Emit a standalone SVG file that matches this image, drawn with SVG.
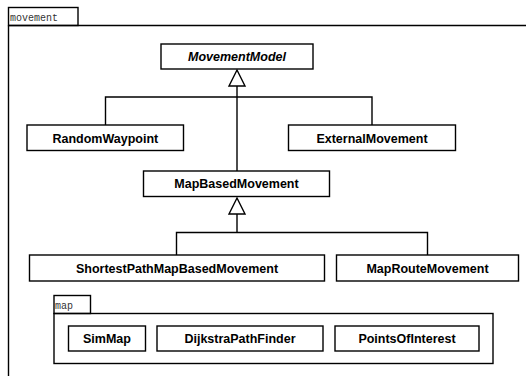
<svg xmlns="http://www.w3.org/2000/svg" width="526" height="376" viewBox="0 0 526 376">
<style>
.box{fill:#fff;stroke:#000;stroke-width:1.4}
.pkg{fill:none;stroke:#000;stroke-width:1.4}
.t{font-family:"Liberation Sans",Arial,sans-serif;font-weight:bold;font-size:12.5px;text-anchor:middle;fill:#000}
.it{font-style:italic}
.tab{font-family:"Liberation Mono","Courier New",monospace;font-size:10px;fill:#333}
.ln{fill:none;stroke:#000;stroke-width:1.4}
.tri{fill:#fff;stroke:#000;stroke-width:1.4}
</style>
<rect width="526" height="376" fill="#fff"/>
<g id="pkg-movement">
<rect class="pkg" x="8.5" y="7.5" width="69.5" height="18"/>
<path class="pkg" d="M8.5 25.5 H530 M8.5 25.5 V380"/>
<text class="tab" x="10" y="20.5">movement</text>
</g>
<g id="connectors">
<path class="ln" d="M237 86 V171"/>
<path class="ln" d="M105.5 125 V97 H372 V125"/>
<polygon class="tri" points="237,70 229,86 245,86"/>
<path class="ln" d="M237 214 V232.5"/>
<path class="ln" d="M176.5 255 V232.5 H427.5 V255"/>
<polygon class="tri" points="237,198 229,214 245,214"/>
</g>
<g id="MovementModel">
<rect class="box" x="161" y="44" width="152" height="25"/>
<text class="t it" x="237" y="61">MovementModel</text>
</g>
<g id="RandomWaypoint">
<rect class="box" x="27" y="125" width="156.5" height="25.5"/>
<text class="t" x="105.3" y="142.5">RandomWaypoint</text>
</g>
<g id="ExternalMovement">
<rect class="box" x="288.5" y="125" width="167" height="25.5"/>
<text class="t" x="372" y="142.5">ExternalMovement</text>
</g>
<g id="MapBasedMovement">
<rect class="box" x="143.5" y="171" width="186" height="25.5"/>
<text class="t" x="236.5" y="188.3">MapBasedMovement</text>
</g>
<g id="ShortestPathMapBasedMovement">
<rect class="box" x="29.5" y="255" width="295" height="26"/>
<text class="t" x="177" y="272.5">ShortestPathMapBasedMovement</text>
</g>
<g id="MapRouteMovement">
<rect class="box" x="336.5" y="255" width="182" height="26"/>
<text class="t" x="427.5" y="272.5">MapRouteMovement</text>
</g>
<g id="pkg-map">
<rect class="pkg" x="54" y="295.5" width="36.5" height="18"/>
<rect class="pkg" x="54" y="313.5" width="439" height="50"/>
<text class="tab" x="55" y="308.5">map</text>
</g>
<g id="SimMap">
<rect class="box" x="68.5" y="326" width="77" height="25"/>
<text class="t" x="107" y="343">SimMap</text>
</g>
<g id="DijkstraPathFinder">
<rect class="box" x="157" y="326" width="166" height="25"/>
<text class="t" x="240" y="343">DijkstraPathFinder</text>
</g>
<g id="PointsOfInterest">
<rect class="box" x="335" y="326" width="144" height="25"/>
<text class="t" x="407" y="343">PointsOfInterest</text>
</g>
</svg>
